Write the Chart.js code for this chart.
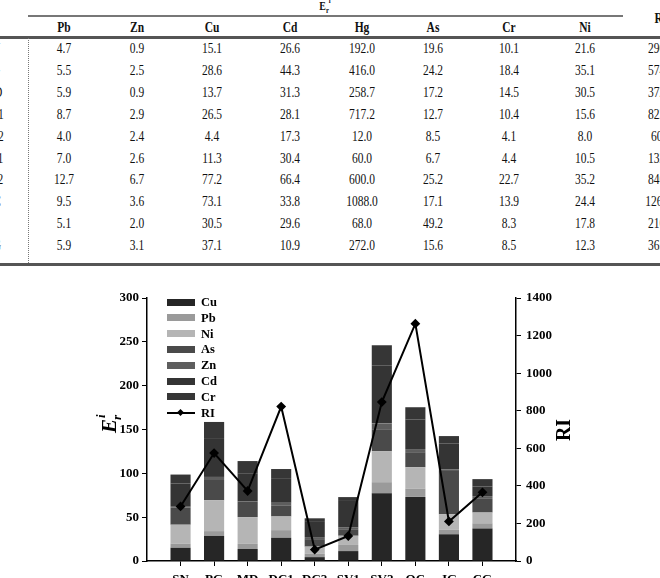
<!DOCTYPE html>
<html>
<head>
<meta charset="utf-8">
<script src="https://cdn.jsdelivr.net/npm/chart.js@4.4.1/dist/chart.umd.min.js"></script>
<style>
html, body { margin: 0; padding: 0; width: 660px; height: 578px; overflow: hidden; background: #fff; }
body { position: relative; font-family: "Liberation Serif", "Times New Roman", serif; color: #111; }
.t { position: absolute; white-space: nowrap; font-size: 14px; line-height: 1; transform: translate(-50%, -50%) scaleX(0.82); }
.b { font-weight: bold; }
#chartBox { position: absolute; left: 0; top: 280px; width: 660px; height: 320px; }
.lg { position: absolute; font: bold 12.5px "Liberation Serif", serif; color: #000; line-height: 1; }
</style>
</head>
<body>
<div id="tbl"></div>
<div id="chartBox"><canvas id="riskChart"></canvas></div>
<div id="legend"></div>
<script>
// 採樣點
const sites = ['SN', 'PG', 'MD', 'DC1', 'DC2', 'SV1', 'SV2', 'OC', 'JG', 'CG'];

// 單項潛在生態風險 Er
const pbVals = [4.7, 5.5, 5.9, 8.7, 4.0, 7.0, 12.7, 9.5, 5.1, 5.9];
const znVals = [0.9, 2.5, 0.9, 2.9, 2.4, 2.6, 6.7, 3.6, 2.0, 3.1];
const cuVals = [15.1, 28.6, 13.7, 26.5, 4.4, 11.3, 77.2, 73.1, 30.5, 37.1];
const cdVals = [26.6, 44.3, 31.3, 28.1, 17.3, 30.4, 66.4, 33.8, 29.6, 10.9];
const hgVals = [192.0, 416.0, 258.7, 717.2, 12.0, 60.0, 600.0, 1088.0, 68.0, 272.0];
const asVals = [19.6, 24.2, 17.2, 12.7, 8.5, 6.7, 25.2, 17.1, 49.2, 15.6];
const crVals = [10.1, 18.4, 14.5, 10.4, 4.1, 4.4, 22.7, 13.9, 8.3, 8.5];
const niVals = [21.6, 35.1, 30.5, 15.6, 8.0, 10.5, 35.2, 24.4, 17.8, 12.3];
const riVals = [290.6, 574.6, 372.7, 822.1, 60.7, 132.9, 846.1, 1263.4, 210.5, 365.4];

const leftTicks = [0, 50, 100, 150, 200, 250, 300];
const rightTicks = [0, 200, 400, 600, 800, 1000, 1200, 1400];

// ---- 上方表格 ----
const tbl = document.getElementById('tbl');
const tableCols = [
    { name: 'Pb', vals: pbVals, x: 64 },
    { name: 'Zn', vals: znVals, x: 137 },
    { name: 'Cu', vals: cuVals, x: 212 },
    { name: 'Cd', vals: cdVals, x: 290 },
    { name: 'Hg', vals: hgVals, x: 362 },
    { name: 'As', vals: asVals, x: 433 },
    { name: 'Cr', vals: crVals, x: 509 },
    { name: 'Ni', vals: niVals, x: 585 },
    { name: 'RI', vals: riVals, x: 661 }
];
const rowY = i => 49 + i * 21.9;

function addText(cls, text, x, y) {
    const d = document.createElement('div');
    d.className = cls;
    d.textContent = text;
    d.style.left = x + 'px';
    d.style.top = y + 'px';
    tbl.appendChild(d);
    return d;
}
function addLine(x, y, w, h, color, style) {
    const d = document.createElement('div');
    d.style.position = 'absolute';
    d.style.left = x + 'px';
    d.style.top = y + 'px';
    d.style.width = w + 'px';
    d.style.height = h + 'px';
    if (style) d.style.borderLeft = style; else d.style.background = color;
    tbl.appendChild(d);
}

// 表頭 E_r^i
const er = addText('t b', 'E', 325, 7);
er.style.fontSize = '12px';
er.innerHTML = 'E<sub style="font-size:8px">r</sub><sup style="font-size:8px;position:relative;top:-2px">i</sup>';
addLine(28, 15, 595, 1.5, '#777');
addLine(0, 36, 660, 2.5, '#555');
addLine(0, 263, 660, 2.5, '#555');
addLine(28, 38, 0, 225, null, '1px dotted #777');

tableCols.forEach(col => {
    addText('t b', col.name, col.x, col.name === 'RI' ? 19 : 27.5);
    col.vals.forEach((v, i) => addText('t', v.toFixed(1), col.x, rowY(i)));
});
// 左側站名欄 (大部分落在畫面外)
sites.forEach((s, i) => addText('t', s, -7, rowY(i)));

// ---- 圖表 ----
const labels = [''].concat(sites, ['']);
const pad = arr => [null].concat(arr, [null]);
const fontFamily = '"Liberation Serif", "Times New Roman", serif';
const tickFont = { family: fontFamily, size: 13, weight: 'bold' };

const barSeries = [
    { label: 'Cu', data: cuVals, color: '#262626' },
    { label: 'Pb', data: pbVals, color: '#9a9a9a' },
    { label: 'Ni', data: niVals, color: '#b5b5b5' },
    { label: 'As', data: asVals, color: '#4a4a4a' },
    { label: 'Zn', data: znVals, color: '#5e5e5e' },
    { label: 'Cd', data: cdVals, color: '#343434' },
    { label: 'Cr', data: crVals, color: '#363636' }
];

const datasets = [{
    type: 'line',
    label: 'RI',
    data: pad(riVals),
    yAxisID: 'y1',
    order: -1,
    borderColor: '#000',
    borderWidth: 2,
    pointStyle: 'rectRot',
    pointRadius: 3.5,
    pointBackgroundColor: '#000',
    pointBorderColor: '#000',
    tension: 0
}];
barSeries.forEach(s => {
    datasets.push({
        type: 'bar',
        label: s.label,
        data: pad(s.data),
        yAxisID: 'y',
        backgroundColor: s.color,
        borderWidth: 0,
        barPercentage: 0.6,
        categoryPercentage: 1.0
    });
});

// 軸標題 (E_r^i 與 RI)，直排
const axisTitles = {
    id: 'axisTitles',
    afterDraw(chart) {
        const ctx = chart.ctx;
        ctx.save();
        ctx.fillStyle = '#000';
        ctx.textBaseline = 'alphabetic';
        ctx.translate(116, 143);
        ctx.rotate(-Math.PI / 2);
        ctx.font = 'italic bold 21px ' + fontFamily;
        const eW = ctx.measureText('E').width;
        const total = eW + 6;
        ctx.fillText('E', -total / 2, 0);
        ctx.font = 'italic bold 13px ' + fontFamily;
        ctx.fillText('r', -total / 2 + eW - 1, 5);
        ctx.fillText('i', -total / 2 + eW + 1, -11);
        ctx.restore();

        ctx.save();
        ctx.fillStyle = '#000';
        ctx.translate(570, 150);
        ctx.rotate(-Math.PI / 2);
        ctx.font = 'bold 20px ' + fontFamily;
        ctx.textAlign = 'center';
        ctx.fillText('RI', 0, 0);
        ctx.restore();
    }
};

const edgeHidden = c => (c.index === 0 || c.index === labels.length - 1) ? 'rgba(0,0,0,0)' : '#000';

const riskChart = new Chart(document.getElementById('riskChart').getContext('2d'), {
    data: { labels: labels, datasets: datasets },
    options: {
        responsive: true,
        maintainAspectRatio: false,
        animation: false,
        layout: { padding: { top: 18, left: 0, right: 0, bottom: 0 } },
        plugins: { legend: { display: false }, tooltip: { enabled: false } },
        scales: {
            x: {
                type: 'category',
                stacked: true,
                offset: false,
                grid: { offset: false, drawOnChartArea: false, drawTicks: true, tickLength: 5, color: edgeHidden, lineWidth: 1 },
                border: { color: '#000', width: 1.5 },
                ticks: { color: '#000', font: tickFont, padding: 6, autoSkip: false, maxRotation: 0 },
                afterFit: s => { s.height = 39; }
            },
            y: {
                position: 'left',
                stacked: true,
                min: 0,
                max: 300,
                afterBuildTicks: s => { s.ticks = leftTicks.map(v => ({ value: v })); },
                grid: { drawOnChartArea: false, tickLength: 5, color: '#000' },
                border: { color: '#000', width: 1.5 },
                ticks: { color: '#000', font: tickFont, padding: 3, callback: v => String(v) },
                afterFit: s => { s.width = 147; }
            },
            y1: {
                position: 'right',
                min: 0,
                max: 1400,
                afterBuildTicks: s => { s.ticks = rightTicks.map(v => ({ value: v })); },
                grid: { drawOnChartArea: false, tickLength: 5, color: '#000' },
                border: { color: '#000', width: 1.5 },
                ticks: { color: '#000', font: tickFont, padding: 5, callback: v => String(v) },
                afterFit: s => { s.width = 144; }
            }
        }
    },
    plugins: [axisTitles]
});

// 圖例 (放在圖內左上)
const legend = document.getElementById('legend');
const lgTop = 302, lgStep = 15.8;
barSeries.forEach((s, i) => {
    const y = lgTop + i * lgStep;
    const box = document.createElement('div');
    box.style.cssText = 'position:absolute;left:167px;width:28px;height:7px;background:' + s.color + ';top:' + (y - 3.5) + 'px';
    legend.appendChild(box);
    const t = document.createElement('div');
    t.className = 'lg';
    t.textContent = s.label;
    t.style.left = '201px';
    t.style.top = (y - 6) + 'px';
    legend.appendChild(t);
});
(function () {
    const y = lgTop + barSeries.length * lgStep;
    const ln = document.createElement('div');
    ln.style.cssText = 'position:absolute;left:167px;width:28px;height:2px;background:#000;top:' + (y - 1) + 'px';
    legend.appendChild(ln);
    const dm = document.createElement('div');
    dm.style.cssText = 'position:absolute;left:178px;width:5px;height:5px;background:#000;transform:rotate(45deg);top:' + (y - 2.5) + 'px';
    legend.appendChild(dm);
    const t = document.createElement('div');
    t.className = 'lg';
    t.textContent = 'RI';
    t.style.left = '201px';
    t.style.top = (y - 6) + 'px';
    legend.appendChild(t);
})();
</script>
</body>
</html>
